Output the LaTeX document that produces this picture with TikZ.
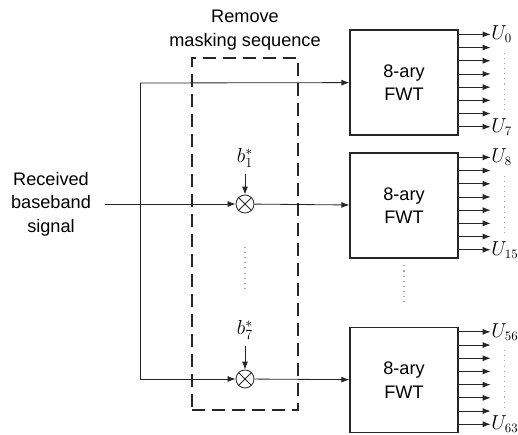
\documentclass[tikz,border=0pt]{standalone}
\usepackage{fontspec}
\setmainfont{Liberation Sans}
\usetikzlibrary{arrows.meta,positioning}

\begin{document}
\begin{tikzpicture}[
x=0.03cm,
y=-0.03cm,
>={Latex[length=2.4mm,width=1.8mm]},
font=\fontsize{15.5}{20}\selectfont,
fwt/.style={
rectangle,
draw=black!85,
line width=1.1pt,
align=center,
minimum width=3.24cm,
minimum height=3.15cm
},
mult/.style={
circle,
draw=black!85,
line width=0.7pt,
minimum size=0.54cm,
inner sep=0pt,
path picture={
\draw[line width=0.7pt] (path picture bounding box.north west) -- (path picture bounding box.south east)
(path picture bounding box.north east) -- (path picture bounding box.south west);
}
},
mask/.style={
rectangle,
draw=black!85,
line width=1.2pt,
dash pattern=on 0.39cm off 0.21cm,
minimum width=3.18cm,
minimum height=10.56cm
},
line/.style={
line width=0.7pt,
draw=black!85
},
arrow/.style={
->,
line width=0.7pt,
draw=black!85
},
mathlabel/.style={
font=\fontsize{17.5}{21}\selectfont,
inner sep=1pt
},
outlabel/.style={
font=\fontsize{16}{20}\selectfont,
inner sep=0.5pt,
anchor=west
},
vdots/.style={
draw=gray!70,
line width=0.9pt,
dash pattern=on 0.9pt off 3.5pt
}
]
\useasboundingbox (0,0) rectangle (518,434);

\node[mask] (maskbox) at (245,234) {};
\node[above=0.1cm of maskbox, align=center] (title)
{Remove\\masking sequence};

\node[fwt] (fwt1) at (404,82.5) {8-ary\\FWT};
\node[fwt] (fwt2) at (404,205.5) {8-ary\\FWT};
\node[fwt] (fwt3) at (404,380) {8-ary\\FWT};

\node[mult] (m1) at (245,204) {};
\node[mult] (m7) at (245,379) {};

\node[mathlabel] (b1) at (245,158) {$b_1^*$};
\node[mathlabel] (b7) at (245,330) {$b_7^*$};

\node[align=center] (recv) at (51,204)
{Received\\baseband\\signal};

\coordinate (in) at (105,204);
\coordinate (top) at (140,83);
\coordinate (bot) at (140,379);

\draw[arrow] (in) -- (m1);
\draw[line] (top) -- (bot);
\draw[arrow] (top) -- (fwt1);
\draw[arrow] (bot) -- (m7);
\draw[arrow] (m1) -- (fwt2);
\draw[arrow] (m7) -- (fwt3);
\draw[arrow] ([yshift=-0.15cm]b1.south) -- (m1);
\draw[arrow] ([yshift=-0.15cm]b7.south) -- (m7);

\foreach \b in {1,2,3}
\foreach \i in {0,...,7}
\draw[arrow] ([yshift=-0.15cm-\i*0.396cm]fwt\b.north east) -- ++(32,0) coordinate (o\b\i);

\node[outlabel] at (o10) {$U_0$};
\node[outlabel] at (o17) {$U_7$};
\node[outlabel] at (o20) {$U_8$};
\node[outlabel] at (o27) {$U_{15}$};
\node[outlabel] at (o30) {$U_{56}$};
\node[outlabel] at (o37) {$U_{63}$};

\foreach \b in {1,2,3}
\draw[vdots] ([xshift=0.42cm,yshift=-0.15cm]o\b1) -- ([xshift=0.42cm]o\b6);

\draw[vdots] ([yshift=-1cm]m1.south) -- ([yshift=2.4cm]m7.north);
\draw[vdots] ([yshift=-0.2cm]fwt2.south) -- ([yshift=0.75cm]fwt3.north);

\end{tikzpicture}
\end{document}
